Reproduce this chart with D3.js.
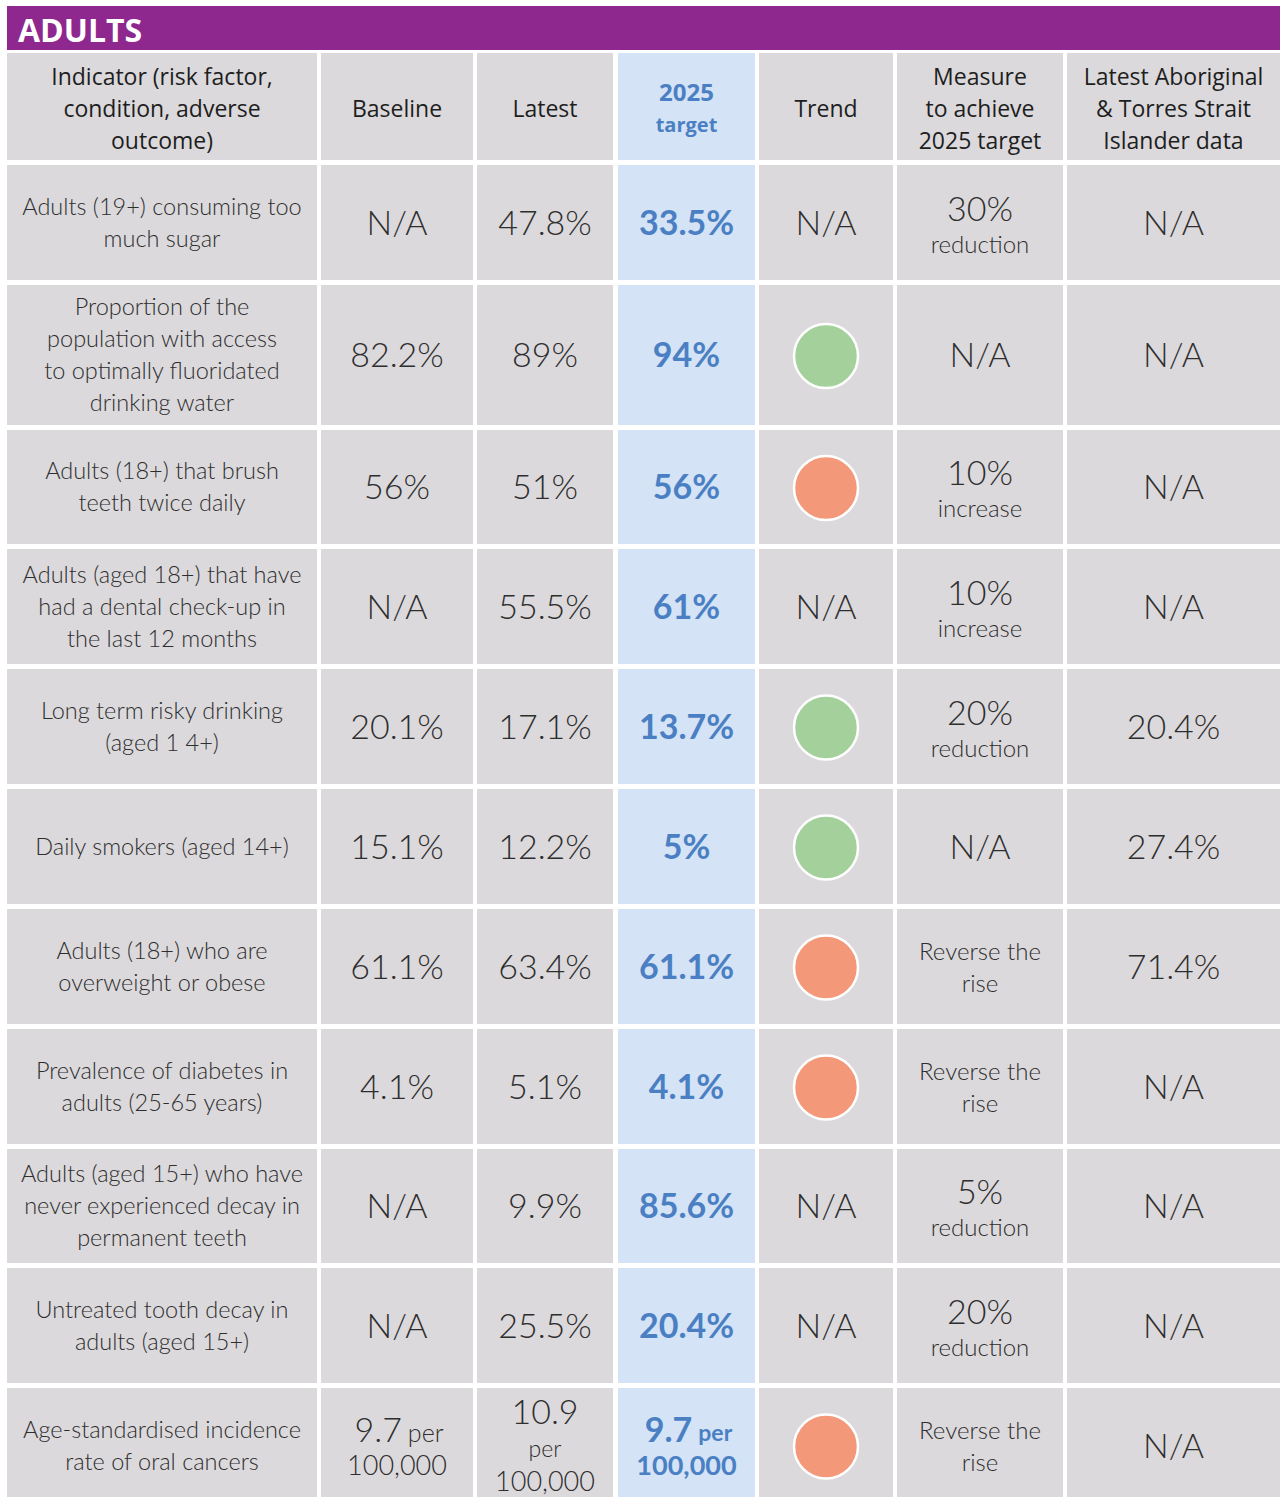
<!DOCTYPE html>
<html lang="en">
  <head>
    <meta charset="UTF-8" />
    <title>Adults</title>
    <script src="https://d3js.org/d3.v7.min.js"></script>
    <style>
      body {
        margin: 0;
        background: #fff;
      }
      .light {
        font-family: "Lato", sans-serif;
        font-weight: 300;
        fill: #2e2e2e;
      }
      .head {
        font-family: "Open Sans", sans-serif;
        fill: #1e1e1e;
      }
      .target {
        font-family: "Lato", sans-serif;
        font-weight: 700;
        fill: #4a80c3;
      }
    </style>
  </head>
  <body>
    <svg id="chart" width="1280" height="1497"></svg>
    <script>
      const headers = [
        "Indicator (risk factor,\ncondition, adverse\noutcome)",
        "Baseline",
        "Latest",
        "2025\ntarget",
        "Trend",
        "Measure\nto achieve\n2025 target",
        "Latest Aboriginal\n& Torres Strait\nIslander data",
      ];
      const indicators = [
        "Adults (19+) consuming too\nmuch sugar",
        "Proportion of the\npopulation with access\nto optimally fluoridated\ndrinking water",
        "Adults (18+) that brush\nteeth twice daily",
        "Adults (aged 18+) that have\nhad a dental check-up in\nthe last 12 months",
        "Long term risky drinking\n(aged 1 4+)",
        "Daily smokers (aged 14+)",
        "Adults (18+) who are\noverweight or obese",
        "Prevalence of diabetes in\nadults (25-65 years)",
        "Adults (aged 15+) who have\nnever experienced decay in\npermanent teeth",
        "Untreated tooth decay in\nadults (aged 15+)",
        "Age-standardised incidence\nrate of oral cancers",
      ];
      const baseline = ["N/A", "82.2%", "56%", "N/A", "20.1%", "15.1%", "61.1%", "4.1%", "N/A", "N/A", "9.7 per 100,000"];
      const latest = ["47.8%", "89%", "51%", "55.5%", "17.1%", "12.2%", "63.4%", "5.1%", "9.9%", "25.5%", "10.9 per 100,000"];
      const target = ["33.5%", "94%", "56%", "61%", "13.7%", "5%", "61.1%", "4.1%", "85.6%", "20.4%", "9.7 per 100,000"];
      const trend = [null, "good", "bad", null, "good", "good", "bad", "bad", null, null, "bad"];
      const measure = [
        "30% reduction", "N/A", "10% increase", "10% increase", "20% reduction", "N/A",
        "Reverse the rise", "Reverse the rise", "5% reduction", "20% reduction", "Reverse the rise",
      ];
      const aboriginal = ["N/A", "N/A", "N/A", "N/A", "20.4%", "27.4%", "71.4%", "N/A", "N/A", "N/A", "N/A"];

      // layout
      const colWidths = [310, 152, 136, 137, 134, 166, 213];
      const colGaps = [4, 4, 5, 4, 4, 4];
      const rowHeights = [115, 140, 114, 115, 115, 115, 115, 115, 114, 115, 115];
      const gap = 5;
      const left = 7;
      const headTop = 53, headH = 107;
      const valSize = 34;

      const colX = [left];
      colWidths.slice(0, -1).forEach((w, i) => colX.push(colX[i] + w + colGaps[i]));
      const rowY = [headTop + headH + gap];
      rowHeights.slice(0, -1).forEach((h, i) => rowY.push(rowY[i] + h + gap));

      const trendColor = d3.scaleOrdinal().domain(["good", "bad"]).range(["#a4d09b", "#f4987a"]);

      const svg = d3.select("#chart");

      // title bar
      svg.append("rect").attr("x", left).attr("y", 6).attr("width", 1280 - left).attr("height", 44).attr("fill", "#8e278e");
      svg.append("text").attr("x", 18).attr("y", 29).attr("dominant-baseline", "central")
        .attr("font-family", "'Open Sans', sans-serif").attr("font-weight", 700)
        .attr("font-size", 32).attr("fill", "#fff").text("ADULTS");

      const cellFill = (c) => (c === 3 ? "#d4e3f5" : "#dbd9dc");

      function lines(g, cx, cy, arr, cls, size, lh) {
        const t = g.append("text").attr("class", cls).attr("text-anchor", "middle")
          .attr("dominant-baseline", "central").attr("font-size", size);
        arr.forEach((s, i) => {
          t.append("tspan").attr("x", cx).attr("y", cy + (i - (arr.length - 1) / 2) * lh).text(s);
        });
        return t;
      }

      // header row
      headers.forEach((h, c) => {
        svg.append("rect").attr("x", colX[c]).attr("y", headTop).attr("width", colWidths[c]).attr("height", headH).attr("fill", cellFill(c));
        const cx = colX[c] + colWidths[c] / 2, cy = headTop + headH / 2 + 1;
        if (c === 3) {
          const [a, b] = h.split("\n");
          svg.append("text").attr("class", "head").attr("text-anchor", "middle").attr("dominant-baseline", "central")
            .attr("x", cx).attr("y", cy - 16).attr("font-size", 24).attr("font-weight", 700).style("fill", "#4a80c3").text(a);
          svg.append("text").attr("class", "head").attr("text-anchor", "middle").attr("dominant-baseline", "central")
            .attr("x", cx).attr("y", cy + 17).attr("font-size", 20).attr("font-weight", 700).style("fill", "#4a80c3").text(b);
        } else {
          lines(svg, cx, cy, h.split("\n"), "head", 23, 32);
        }
      });

      function perValue(g, cx, cy, val, cls, stacked) {
        const [num, rest] = val.split(" per ");
        if (stacked) {
          lines(g, cx, cy - 35, [num], cls, valSize, 0);
          lines(g, cx, cy + 3, ["per"], cls, 23, 0);
          lines(g, cx, cy + 35, [rest], cls, 27, 0);
        } else {
          const t = g.append("text").attr("class", cls).attr("text-anchor", "middle").attr("dominant-baseline", "central")
            .attr("x", cx + 2).attr("y", cy - 17);
          t.append("tspan").attr("font-size", valSize).text(num);
          t.append("tspan").attr("font-size", cls === "target" ? 23 : 25).attr("dx", 6).attr("dy", 4).text("per");
          lines(g, cx, cy + 19, [rest], cls, 27, 0);
        }
      }

      indicators.forEach((ind, r) => {
        const y = rowY[r], h = rowHeights[r];
        const cy = y + h / 2 - 1;
        const g = svg.append("g");
        colWidths.forEach((w, c) => {
          g.append("rect").attr("x", colX[c]).attr("y", y).attr("width", w).attr("height", h).attr("fill", cellFill(c));
        });
        const cx = (c) => colX[c] + colWidths[c] / 2;

        lines(g, cx(0), cy, ind.split("\n"), "light", 23.5, 32);

        [baseline, latest, target].forEach((arr, k) => {
          const c = k + 1;
          const cls = c === 3 ? "target" : "light";
          const v = arr[r];
          if (v.includes(" per ")) perValue(g, cx(c), cy, v, cls, c === 2);
          else lines(g, cx(c), cy - 1, [v], cls, valSize, 0);
        });

        if (trend[r]) {
          g.append("circle").attr("cx", cx(4)).attr("cy", cy + 2).attr("r", 32)
            .attr("fill", trendColor(trend[r])).attr("stroke", "#fff").attr("stroke-width", 2.5);
        } else {
          lines(g, cx(4), cy - 1, ["N/A"], "light", valSize, 0);
        }

        const m = measure[r];
        const mm = m.match(/^(\d+%) (.+)$/);
        if (mm) {
          lines(g, cx(5), cy - 15, [mm[1]], "light", valSize, 0);
          lines(g, cx(5), cy + 21, [mm[2]], "light", 24, 0);
        } else if (m === "N/A") {
          lines(g, cx(5), cy - 1, ["N/A"], "light", valSize, 0);
        } else {
          lines(g, cx(5), cy, ["Reverse the", "rise"], "light", 24, 32);
        }

        lines(g, cx(6), cy - 1, [aboriginal[r]], "light", valSize, 0);
      });
    </script>
  </body>
</html>
